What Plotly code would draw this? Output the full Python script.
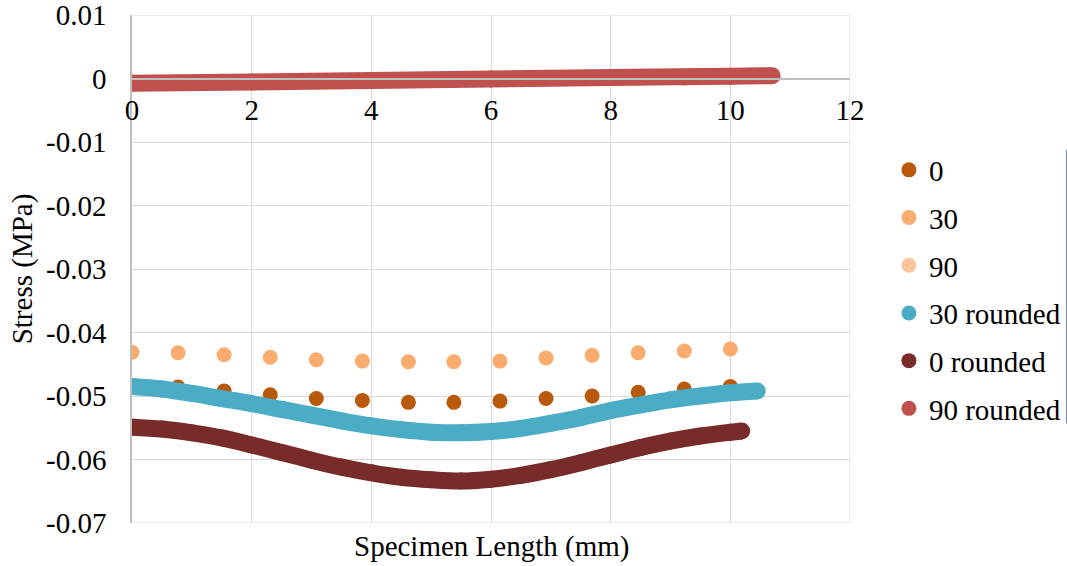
import plotly.graph_objects as go

# ---------------- data ----------------
dot_x = [0.0, 0.77, 1.54, 2.31, 3.08, 3.85, 4.62, 5.38, 6.15, 6.92, 7.69, 8.46, 9.23, 10.0]
s0 = [-0.0486, -0.0486, -0.0492, -0.0498, -0.0504, -0.0507, -0.0510, -0.0510,
      -0.0508, -0.0504, -0.0500, -0.0494, -0.0489, -0.0485]
s30 = [-0.0431, -0.0432, -0.0435, -0.0439, -0.0443, -0.0445, -0.0446, -0.0446,
       -0.0445, -0.0440, -0.0436, -0.0432, -0.0429, -0.0426]
s90 = [-0.0005, -0.0005, -0.0004, -0.0004, -0.0003, -0.0003, -0.0002, -0.0002,
       -0.0001, -0.0001, 0.0000, 0.0000, 0.0000, 0.0001]

r30_x = [0.0, 0.5, 1.0, 1.5, 2.0, 2.5, 3.0, 3.5, 4.0, 4.5, 5.0, 5.5, 6.0, 6.5,
         7.0, 7.5, 8.0, 8.5, 9.0, 9.5, 10.0, 10.45]
r30_y = [-0.0485, -0.0489, -0.0496, -0.0504, -0.0512, -0.0521, -0.0530, -0.0539,
         -0.0547, -0.0553, -0.0557, -0.0558, -0.0556, -0.0551, -0.0543, -0.0534,
         -0.0523, -0.0514, -0.0506, -0.0500, -0.0495, -0.0492]

r0_x = [0.0, 0.5, 1.0, 1.5, 2.0, 2.5, 3.0, 3.5, 4.0, 4.5, 5.0, 5.5, 6.0, 6.5,
        7.0, 7.5, 8.0, 8.5, 9.0, 9.5, 10.0, 10.19]
r0_y = [-0.0549, -0.0552, -0.0558, -0.0566, -0.0577, -0.0589, -0.0601, -0.0612,
        -0.0621, -0.0628, -0.0632, -0.0634, -0.0631, -0.0625, -0.0616, -0.0605,
        -0.0593, -0.0581, -0.0571, -0.0563, -0.0557, -0.0555]

r90_x = [0.0, 2.0, 4.0, 6.0, 8.0, 10.0, 10.7]
r90_y = [-0.00076, -0.00054, -0.00031, -0.00009, 0.00014, 0.00036, 0.00044]

x_ticks = [0, 2, 4, 6, 8, 10, 12]
x_tick_text = ["0", "2", "4", "6", "8", "10", "12"]
y_ticks = [0.01, 0.0, -0.01, -0.02, -0.03, -0.04, -0.05, -0.06, -0.07]
y_tick_text = ["0.01", "0", "-0.01", "-0.02", "-0.03", "-0.04", "-0.05", "-0.06", "-0.07"]
X_MIN, X_MAX = 0, 12
Y_MIN, Y_MAX = -0.07, 0.01

C0 = "#B8590B"
C30 = "#F9AC6D"
C90 = "#F8C59C"
CR30 = "#4BACC6"
CR0 = "#772C2A"
CR90 = "#C0504D"
GRID = "#D9D9D9"

FONT = "Liberation Serif"
FS = 29

fig = go.Figure()

def dots(x, y, name, color):
    fig.add_trace(go.Scatter(x=x, y=y, mode="markers", name=name, legendgroup=name,
                             marker=dict(size=15, color=color, line=dict(width=0))))

def dense(x, y, name, color):
    fig.add_trace(go.Scatter(x=x, y=y, mode="lines+markers", name=name, legendgroup=name,
                             showlegend=False,
                             line=dict(color=color, width=17, shape="spline", smoothing=1),
                             marker=dict(size=17, color=color, line=dict(width=0))))
    fig.add_trace(go.Scatter(x=[None], y=[None], mode="markers", name=name, legendgroup=name,
                             marker=dict(size=15, color=color, line=dict(width=0))))

dots(dot_x, s0, "0", C0)
dots(dot_x, s30, "30", C30)
dots(dot_x, s90, "90", C90)
dense(r30_x, r30_y, "30 rounded", CR30)
dense(r0_x, r0_y, "0 rounded", CR0)
dense(r90_x, r90_y, "90 rounded", CR90)

shapes = [
    dict(type="line", xref="x", yref="y", x0=X_MIN, x1=X_MAX, y0=Y_MAX, y1=Y_MAX,
         line=dict(color=GRID, width=1), layer="below"),
    dict(type="line", xref="x", yref="y", x0=X_MIN, x1=X_MAX, y0=Y_MIN, y1=Y_MIN,
         line=dict(color=GRID, width=1), layer="below"),
    dict(type="line", xref="x", yref="y", x0=X_MAX, x1=X_MAX, y0=Y_MIN, y1=Y_MAX,
         line=dict(color=GRID, width=1), layer="below"),
]

fig.update_layout(
    width=1067, height=566,
    margin=dict(l=132, r=217, t=15, b=43),
    paper_bgcolor="white", plot_bgcolor="white",
    font=dict(family=FONT, size=FS, color="black"),
    shapes=shapes,
    legend=dict(xref="container", yref="container",
                x=0.8331, xanchor="left", y=0.7447, yanchor="top",
                traceorder="grouped", tracegroupgap=7,
                font=dict(family=FONT, size=FS, color="black"),
                itemwidth=30, bgcolor="rgba(0,0,0,0)"),
    xaxis=dict(range=[X_MIN, X_MAX], tickvals=x_ticks, ticktext=x_tick_text,
               anchor="free", position=0.875, automargin=False,
               showgrid=True, gridcolor=GRID, gridwidth=1,
               showline=True, linecolor="#BFBFBF", linewidth=1.5,
               zeroline=False, ticks="", ticklabelstandoff=6,
               ticklabeloverflow="allow",
               tickfont=dict(family=FONT, size=FS, color="black")),
    yaxis=dict(range=[Y_MIN, Y_MAX], tickvals=y_ticks, ticktext=y_tick_text,
               automargin=False,
               showgrid=True, gridcolor=GRID, gridwidth=1,
               showline=True, linecolor="#BFBFBF", linewidth=1.5,
               zeroline=False, ticks="", ticklabelstandoff=18,
               ticklabeloverflow="allow",
               tickfont=dict(family=FONT, size=FS, color="black"),
               title=dict(text="Stress (MPa)", standoff=5,
                          font=dict(family=FONT, size=FS, color="black"))),
    annotations=[dict(text="Specimen Length (mm)", xref="paper", yref="paper",
                      x=0.5, y=0, xanchor="center", yanchor="top", yshift=-5,
                      showarrow=False, font=dict(family=FONT, size=FS, color="black"))],
)

fig.write_html("out.html")
